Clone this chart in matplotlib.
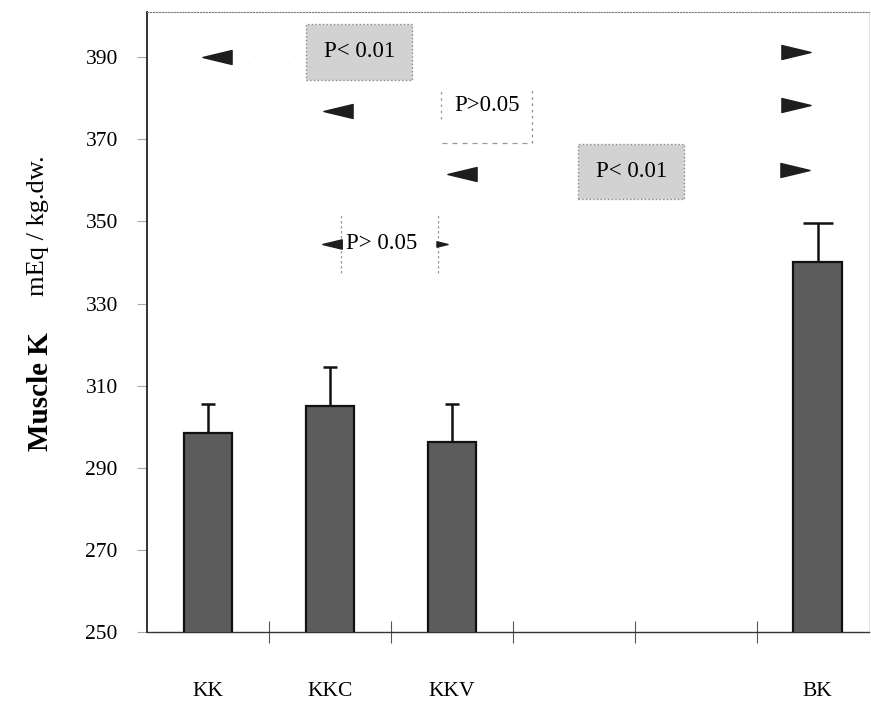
import matplotlib
matplotlib.use("Agg")
import matplotlib.pyplot as plt
from matplotlib.path import Path
import numpy as np

# ---- data ----
positions = [0, 1, 2, 5]
labels = ["KK", "KKC", "KKV", "BK"]
values = [298.5, 305, 296.2, 340]
errors = [7, 9.5, 9.3, 9.6]
yticks = [250, 270, 290, 310, 330, 350, 370, 390]

# significance arrows (x, y)
left_arrows_x = [0.07, 1.07, 2.08]
left_arrows_y = [390, 377, 361.5]
right_arrows_x = [4.82, 4.82, 4.81]
right_arrows_y = [391.3, 378.3, 362.5]

plt.rcParams['font.family'] = ['Liberation Serif', 'DejaVu Serif']

fig = plt.figure(figsize=(8.71, 7.05), dpi=100)
ax = fig.add_axes([147/871, (705-632)/705, (869-147)/871, (632-12)/705])

bar_color = '#5c5c5c'
ax.bar(positions, values, width=0.4, color=bar_color, edgecolor='#111111',
       linewidth=1.6, zorder=3)
caps = [4.8, 4.8, 4.8, 10.8]
for p, v, e, c in zip(positions, values, errors, caps):
    ax.errorbar([p], [v], yerr=[[0], [e]], fmt='none', ecolor='#111111',
                elinewidth=1.8, capsize=c, capthick=1.8, zorder=2)

ax.set_xlim(-0.5, 5.42)
ax.set_ylim(250, 401)

# custom triangle markers
left_tri = Path([(-1, 0), (1, 0.48), (1, -0.48), (-1, 0)],
                [Path.MOVETO, Path.LINETO, Path.LINETO, Path.CLOSEPOLY])
right_tri = Path([(1, 0), (-1, 0.48), (-1, -0.48), (1, 0)],
                 [Path.MOVETO, Path.LINETO, Path.LINETO, Path.CLOSEPOLY])
ax.plot(left_arrows_x, left_arrows_y, linestyle='none', marker=left_tri,
        markersize=21, color='#1e1e1e', zorder=4)
ax.plot(right_arrows_x, right_arrows_y, linestyle='none', marker=right_tri,
        markersize=21, color='#1e1e1e', zorder=4)

# faint dotted connectors
for ly, ry, lx in zip(left_arrows_y, right_arrows_y, left_arrows_x):
    ax.plot([lx + 0.15, 4.7], [ly, ry], linestyle=(0, (1, 8)), color='#eeeeee',
            linewidth=0.8, zorder=1)

# annotation boxes
box_kw = dict(boxstyle='square,pad=0.75', facecolor='#d2d2d2',
              edgecolor='#8a8a8a', linestyle=':', linewidth=1)
ax.text(1.24, 391.3, "P< 0.01", fontsize=16.5, ha='center', va='center',
        zorder=5, bbox=box_kw)
ax.text(3.47, 362.2, "P< 0.01", fontsize=16.5, ha='center', va='center',
        zorder=5, bbox=box_kw)
ax.text(2.29, 378.3, "P>0.05", fontsize=16.5, ha='center', va='center', zorder=5)
# partial dashed frame around P>0.05
ax.plot([1.91, 1.91], [375.0, 382.5], color='#9a9a9a', lw=0.9, ls=(0, (2, 3)))
ax.plot([2.66, 2.66], [369.0, 382.8], color='#8a8a8a', lw=0.9, ls=(0, (2, 3)))
ax.plot([1.92, 2.66], [369.0, 369.0], color='#9a9a9a', lw=0.9, ls=(0, (4, 4)))

# lower P> 0.05 bracket
ax.text(1.42, 344.5, "P> 0.05", fontsize=16.5, ha='center', va='center', zorder=5)
ax.plot([1.09, 1.09], [337.5, 351.8], color='#9a9a9a', lw=0.9, ls=(0, (2, 2)))
ax.plot([1.89, 1.89], [337.5, 351.8], color='#9a9a9a', lw=0.9, ls=(0, (2, 2)))
ax.plot([1.02], [344.5], marker=left_tri, markersize=14, color='#1e1e1e', ls='none')
ax.plot([1.92], [344.5], marker=right_tri, markersize=8, color='#1e1e1e', ls='none')

# axes styling
ax.spines['top'].set_linestyle(':')
ax.spines['top'].set_color('#777777')
ax.spines['right'].set_color('#dddddd')
ax.spines['right'].set_linewidth(0.6)
ax.spines['left'].set_linewidth(1.3)
ax.spines['left'].set_color('#222222')
ax.spines['bottom'].set_linewidth(1.0)
ax.spines['bottom'].set_color('#333333')

ax.set_yticks(yticks)
ax.set_yticklabels([str(t) for t in yticks], fontsize=15.5)
ax.tick_params(axis='y', direction='out', length=7, width=0.8, color='#aaaaaa',
               pad=14)

ax.set_xticks(positions)
ax.set_xticklabels(labels, fontsize=15.5)
ax.tick_params(axis='x', which='major', length=0, pad=36)
ax.set_xticks([0.5, 1.5, 2.5, 3.5, 4.5], minor=True)
ax.tick_params(axis='x', which='minor', direction='inout', length=16, width=0.8,
               color='#555555')

fig.text(40/871, 1 - 392/705, "Muscle K", rotation=90, fontsize=21,
         fontweight='bold', ha='center', va='center')
fig.text(38/871, 1 - 226/705, "mEq / kg.dw.", rotation=90, fontsize=19,
         ha='center', va='center')

fig.savefig("out.png", dpi=100)
